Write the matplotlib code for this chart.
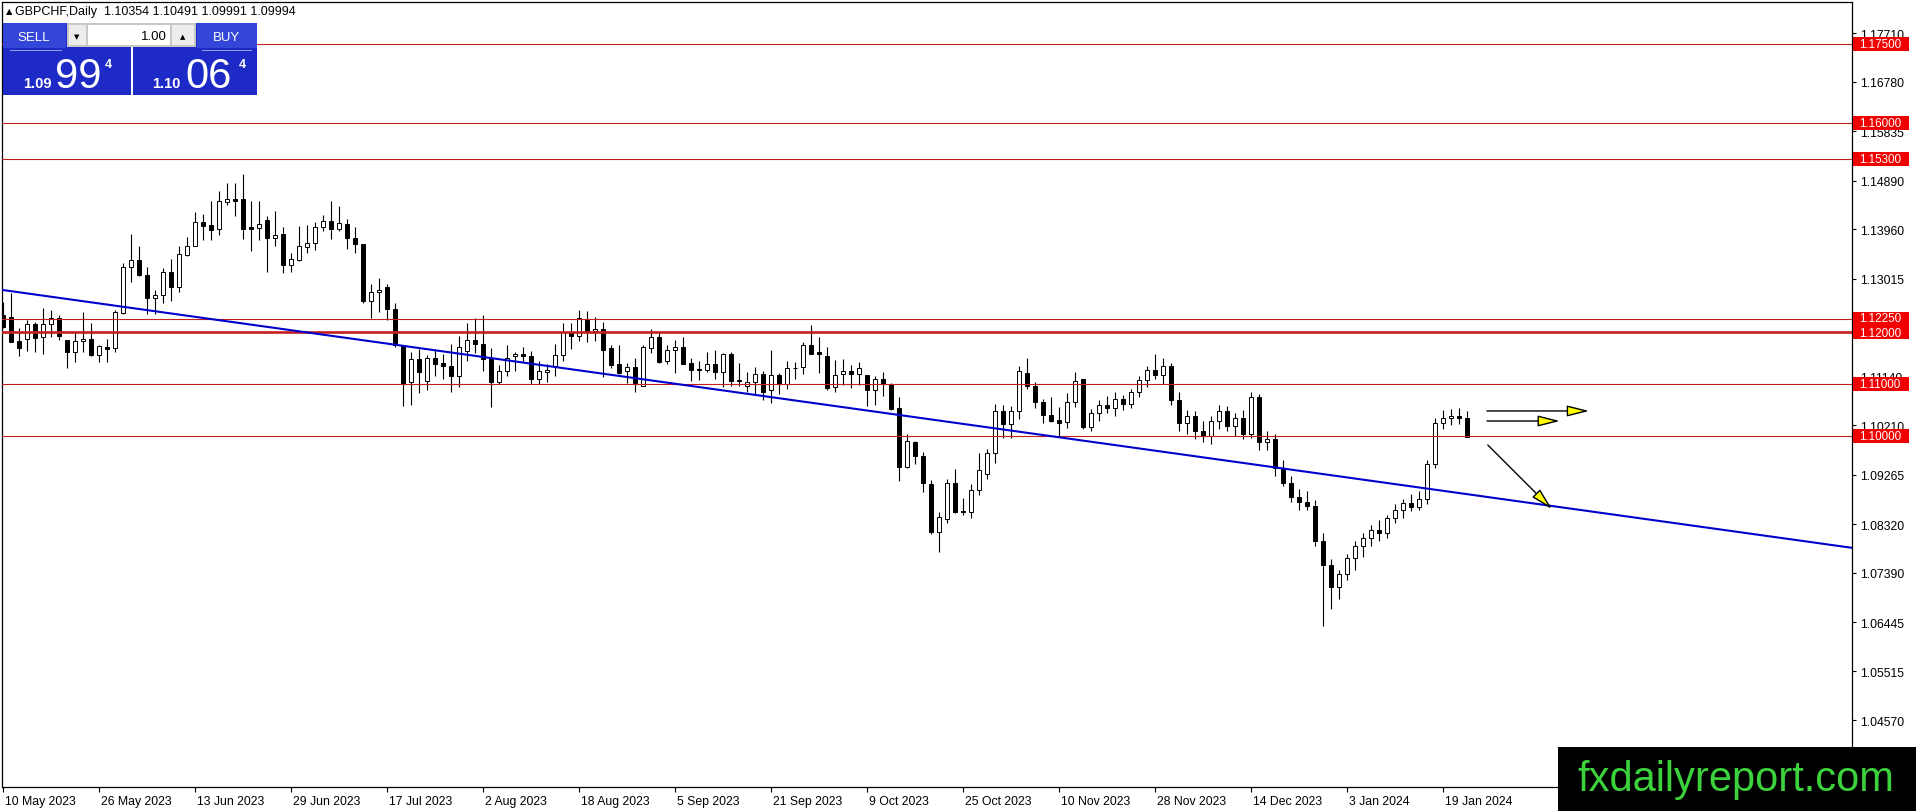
import matplotlib
matplotlib.use("Agg")
import matplotlib.pyplot as plt
from matplotlib.patches import Rectangle, FancyArrowPatch
from matplotlib.transforms import ScaledTranslation
import numpy as np

plt.rcParams['font.family'] = ['Liberation Sans', 'DejaVu Sans']

# ---------------- data ----------------
symbol_header = "GBPCHF,Daily  1.10354 1.10491 1.09991 1.09994"

opens = [
    1.1232, 1.1228, 1.1183, 1.1186, 1.1215, 1.1190, 1.1215, 1.1226, 1.1184, 1.1161,
    1.1182, 1.1186, 1.1155, 1.1171, 1.1169, 1.1236, 1.1324, 1.1338, 1.1308, 1.1264,
    1.1271, 1.1314, 1.1285, 1.1347, 1.1365, 1.1410, 1.1404, 1.1396, 1.1449, 1.1454,
    1.1454, 1.1401, 1.1399, 1.1414, 1.1379, 1.1387, 1.1327, 1.1338, 1.1363, 1.1369,
    1.1400, 1.1412, 1.1397, 1.1406, 1.1380, 1.1368, 1.1260, 1.1276, 1.1285, 1.1244,
    1.1175, 1.1104, 1.1148, 1.1107, 1.1150, 1.1140, 1.1134, 1.1116, 1.1163, 1.1185,
    1.1177, 1.1150, 1.1105, 1.1126, 1.1153, 1.1157, 1.1153, 1.1109, 1.1124, 1.1135,
    1.1155, 1.1200, 1.1192, 1.1223, 1.1202, 1.1206, 1.1169, 1.1139, 1.1125, 1.1132,
    1.1097, 1.1169, 1.1190, 1.1144, 1.1165, 1.1171, 1.1141, 1.1129, 1.1128, 1.1139,
    1.1124, 1.1158, 1.1108, 1.1096, 1.1104, 1.1119, 1.1088, 1.1118, 1.1100, 1.1130,
    1.1132, 1.1175, 1.1162, 1.1154, 1.1094, 1.1119, 1.1126, 1.1119, 1.1118, 1.1088,
    1.1110, 1.1100, 1.1055, 1.0942, 1.0989, 1.0962, 1.0909, 1.0818, 1.0842, 1.0912,
    1.0858, 1.0856, 1.0898, 1.0928, 1.0968, 1.1048, 1.1023, 1.1048, 1.1121, 1.1096,
    1.1065, 1.1042, 1.1032, 1.1027, 1.1065, 1.1109, 1.1019, 1.1044, 1.1060, 1.1055,
    1.1072, 1.1062, 1.1085, 1.1108, 1.1128, 1.1118, 1.1135, 1.1070, 1.1025, 1.1040,
    1.1010, 1.1000, 1.1030, 1.1048, 1.1020, 1.1035, 1.1005, 1.1075, 1.0990, 1.0995,
    1.0940, 1.0912, 1.0885, 1.0875, 1.0868, 1.0800, 1.0755, 1.0712, 1.0738, 1.0768,
    1.0790, 1.0805, 1.0822, 1.0815, 1.0845, 1.0860, 1.0872, 1.0866, 1.0880, 1.0948,
    1.1025, 1.1035, 1.1040, 1.10354,
]
highs = [
    1.1258, 1.1274, 1.1207, 1.1222, 1.1218, 1.1245, 1.1242, 1.1232, 1.1185, 1.1198,
    1.1238, 1.1217, 1.1174, 1.1186, 1.1241, 1.1331, 1.1387, 1.1365, 1.1324, 1.1280,
    1.1322, 1.1339, 1.1365, 1.1381, 1.1429, 1.1425, 1.1451, 1.1469, 1.1485, 1.1485,
    1.1502, 1.1451, 1.1451, 1.1422, 1.1431, 1.1400, 1.1350, 1.1403, 1.1404, 1.1410,
    1.1424, 1.1451, 1.1440, 1.1416, 1.1400, 1.1368, 1.1292, 1.1303, 1.1292, 1.1255,
    1.1175, 1.1161, 1.1167, 1.1156, 1.1167, 1.1158, 1.1177, 1.1193, 1.1217, 1.1226,
    1.1232, 1.1169, 1.1136, 1.1175, 1.1161, 1.1172, 1.1164, 1.1145, 1.1139, 1.1177,
    1.1217, 1.1217, 1.1241, 1.1239, 1.1228, 1.1218, 1.1174, 1.1174, 1.1141, 1.1151,
    1.1174, 1.1206, 1.1198, 1.1174, 1.1185, 1.1190, 1.1150, 1.1145, 1.1161, 1.1165,
    1.1160, 1.1162, 1.1141, 1.1123, 1.1132, 1.1125, 1.1165, 1.1121, 1.1145, 1.1142,
    1.1180, 1.1214, 1.1191, 1.1172, 1.1146, 1.1148, 1.1137, 1.1143, 1.1118, 1.1116,
    1.1124, 1.1102, 1.1076, 1.1004, 1.0992, 1.0971, 1.0916, 1.0856, 1.0919, 1.0938,
    1.0882, 1.0909, 1.0968, 1.0976, 1.1062, 1.1061, 1.1059, 1.1134, 1.1151, 1.1105,
    1.1072, 1.1075, 1.1056, 1.1083, 1.1123, 1.1110, 1.1052, 1.1070, 1.1078, 1.1085,
    1.1080, 1.1090, 1.1115, 1.1135, 1.1158, 1.1150, 1.1140, 1.1085, 1.1050, 1.1048,
    1.1030, 1.1040, 1.1060, 1.1058, 1.1045, 1.1050, 1.1085, 1.1082, 1.1010, 1.1005,
    1.0955, 1.0925, 1.0900, 1.0895, 1.0878, 1.0815, 1.0765, 1.0745, 1.0775, 1.0800,
    1.0815, 1.0830, 1.0840, 1.0850, 1.0870, 1.0880, 1.0890, 1.0895, 1.0955, 1.1035,
    1.1050, 1.1052, 1.1055, 1.10491,
]
lows = [
    1.1207, 1.1180, 1.1153, 1.1164, 1.1161, 1.1158, 1.1190, 1.1185, 1.1130, 1.1143,
    1.1162, 1.1153, 1.1142, 1.1143, 1.1161, 1.1234, 1.1295, 1.1306, 1.1234, 1.1234,
    1.1255, 1.1260, 1.1277, 1.1346, 1.1364, 1.1376, 1.1375, 1.1385, 1.1443, 1.1421,
    1.1378, 1.1355, 1.1376, 1.1315, 1.1365, 1.1312, 1.1314, 1.1335, 1.1351, 1.1357,
    1.1392, 1.1378, 1.1392, 1.1359, 1.1350, 1.1255, 1.1226, 1.1238, 1.1223, 1.1172,
    1.1058, 1.1060, 1.1083, 1.1088, 1.1116, 1.1110, 1.1086, 1.1094, 1.1145, 1.1160,
    1.1126, 1.1056, 1.1100, 1.1116, 1.1126, 1.1142, 1.1100, 1.1100, 1.1105, 1.1116,
    1.1145, 1.1167, 1.1183, 1.1181, 1.1183, 1.1113, 1.1131, 1.1120, 1.1102, 1.1085,
    1.1096, 1.1159, 1.1140, 1.1139, 1.1121, 1.1138, 1.1107, 1.1108, 1.1124, 1.1109,
    1.1094, 1.1096, 1.1097, 1.1085, 1.1081, 1.1069, 1.1064, 1.1081, 1.1091, 1.1109,
    1.1119, 1.1158, 1.1121, 1.1089, 1.1085, 1.1099, 1.1093, 1.1099, 1.1059, 1.1060,
    1.1077, 1.1051, 1.0914, 1.0939, 1.0947, 1.0893, 1.0814, 1.0780, 1.0834, 1.0854,
    1.0850, 1.0844, 1.0888, 1.0919, 1.0949, 1.0997, 1.0997, 1.1033, 1.1091, 1.1055,
    1.1025, 1.1027, 1.1000, 1.1016, 1.1056, 1.1014, 1.1010, 1.1030, 1.1045, 1.1040,
    1.1050, 1.1055, 1.1075, 1.1095, 1.1110, 1.1100, 1.1060, 1.1010, 1.1005, 1.0995,
    1.0990, 1.0985, 1.1015, 1.1010, 1.1000, 1.0995, 1.0998, 1.0975, 1.0975, 1.0925,
    1.0905, 1.0875, 1.0860, 1.0860, 1.0790, 1.0637, 1.0670, 1.0690, 1.0725, 1.0745,
    1.0770, 1.0790, 1.0800, 1.0805, 1.0835, 1.0845, 1.0858, 1.0860, 1.0870, 1.0940,
    1.1015, 1.1022, 1.1024, 1.09991,
]
closes = [
    1.1209, 1.1181, 1.1170, 1.1215, 1.1188, 1.1215, 1.1226, 1.1193, 1.1161, 1.1182,
    1.1186, 1.1155, 1.1173, 1.1168, 1.1238, 1.1324, 1.1338, 1.1308, 1.1264, 1.1271,
    1.1314, 1.1285, 1.1348, 1.1364, 1.1410, 1.1403, 1.1394, 1.1450, 1.1454, 1.1451,
    1.1397, 1.1397, 1.1406, 1.1379, 1.1386, 1.1327, 1.1339, 1.1364, 1.1369, 1.1400,
    1.1412, 1.1397, 1.1408, 1.1380, 1.1368, 1.1260, 1.1276, 1.1281, 1.1243, 1.1175,
    1.1100, 1.1148, 1.1124, 1.1150, 1.1139, 1.1134, 1.1116, 1.1172, 1.1185, 1.1176,
    1.1148, 1.1104, 1.1125, 1.1151, 1.1157, 1.1153, 1.1109, 1.1125, 1.1127, 1.1156,
    1.1200, 1.1192, 1.1226, 1.1199, 1.1205, 1.1166, 1.1137, 1.1121, 1.1132, 1.1102,
    1.1171, 1.1190, 1.1143, 1.1165, 1.1171, 1.1139, 1.1128, 1.1127, 1.1138, 1.1124,
    1.1158, 1.1107, 1.1106, 1.1104, 1.1119, 1.1086, 1.1118, 1.1100, 1.1130, 1.1131,
    1.1175, 1.1158, 1.1158, 1.1092, 1.1118, 1.1125, 1.1119, 1.1130, 1.1088, 1.1110,
    1.1100, 1.1053, 1.0942, 1.0991, 1.0962, 1.0911, 1.0818, 1.0847, 1.0912, 1.0856,
    1.0856, 1.0898, 1.0936, 1.0968, 1.1048, 1.1023, 1.1048, 1.1125, 1.1096, 1.1065,
    1.1042, 1.1030, 1.1026, 1.1065, 1.1107, 1.1019, 1.1044, 1.1060, 1.1055, 1.1072,
    1.1062, 1.1085, 1.1108, 1.1128, 1.1118, 1.1135, 1.1070, 1.1025, 1.1040, 1.1010,
    1.1000, 1.1030, 1.1048, 1.1020, 1.1035, 1.1005, 1.1075, 1.0990, 1.0995, 1.0940,
    1.0912, 1.0885, 1.0875, 1.0868, 1.0800, 1.0755, 1.0712, 1.0738, 1.0768, 1.0790,
    1.0805, 1.0822, 1.0815, 1.0845, 1.0860, 1.0872, 1.0866, 1.0880, 1.0948, 1.1025,
    1.1035, 1.1040, 1.1036, 1.09994,
]

level_prices = [1.17500, 1.16000, 1.15300, 1.12250, 1.12000, 1.11000, 1.10000]
level_labels = ["1.17500", "1.16000", "1.15300", "1.12250", "1.12000", "1.11000", "1.10000"]

price_ticks = [1.17710, 1.16780, 1.15835, 1.14890, 1.13960, 1.13015, 1.12070,
               1.11140, 1.10210, 1.09265, 1.08320, 1.07390, 1.06445, 1.05515, 1.04570]
# 1.12070 is completely covered by the 1.12250 / 1.12000 level labels in the original
hidden_tick_labels = [1.12070]

date_tick_bars = [0, 12, 24, 36, 48, 60, 72, 84, 96, 108, 120, 132, 144, 156, 168, 180]
date_tick_labels = ["10 May 2023", "26 May 2023", "13 Jun 2023", "29 Jun 2023",
                    "17 Jul 2023", "2 Aug 2023", "18 Aug 2023", "5 Sep 2023",
                    "21 Sep 2023", "9 Oct 2023", "25 Oct 2023", "10 Nov 2023",
                    "28 Nov 2023", "14 Dec 2023", "3 Jan 2024", "19 Jan 2024"]

trend_anchor_a = (0, 1.1280)
trend_anchor_b = (181, 1.0894)

arrow_tails = [(185.5, 1.10488), (185.5, 1.10296), (185.6, 1.09837)]
arrow_tips = [(198.25, 1.10488), (194.6, 1.10296), (193.6, 1.08614)]

sell_price = ("1.09", "99", "4")
buy_price = ("1.10", "06", "4")
lot_size = "1.00"
watermark = "fxdailyreport.com"

# ---------------- figure ----------------
W, H = 1916, 812
fig = plt.figure(figsize=(W / 100, H / 100), dpi=100)
fig.patch.set_facecolor("white")


def fx(px):
    return px / W


def fy(py):
    return 1 - py / H


ax_left, ax_right, ax_top, ax_bot = 2, 1852, 2.5, 788
ax = fig.add_axes([fx(ax_left), fy(ax_bot), (ax_right - ax_left) / W, (ax_bot - ax_top) / H])
ax.set_facecolor("white")
ax.set_xlim(-0.125, 231.125)
ax.set_ylim(1.03298, 1.18317)

n = len(closes)
x = np.arange(n)
o = np.array(opens)
h = np.array(highs)
l = np.array(lows)
c = np.array(closes)

ax.vlines(x, l, h, color="black", lw=0.8, zorder=2)
bottoms = np.minimum(o, c)
heights = np.abs(c - o)
colors = ["white" if cc >= oo else "black" for oo, cc in zip(o, c)]
ax.bar(x, heights, bottom=bottoms, width=0.58, color=colors, edgecolor="black",
       linewidth=0.7, zorder=3)

# horizontal levels
for p in level_prices:
    ax.axhline(p, color="#C41E1E", lw=1.9 if abs(p - 1.12) < 1e-9 else 0.8, zorder=4)

# trend line
ax.axline(trend_anchor_a, trend_anchor_b, color="#0000CC", lw=1.5, zorder=5)

# arrows
for tail, tip in zip(arrow_tails, arrow_tips):
    arr = FancyArrowPatch(tail, tip, arrowstyle="-|>,head_length=1.35,head_width=0.34",
                          mutation_scale=10, facecolor="#FFFF00", edgecolor="black",
                          lw=1.0, shrinkA=0, shrinkB=0, zorder=6)
    ax.add_patch(arr)

# axes styling
for s in ax.spines.values():
    s.set_color("black")
    s.set_linewidth(0.9)
ax.yaxis.tick_right()
ax.set_yticks(price_ticks)
ax.set_yticklabels(["" if t in hidden_tick_labels else f"{t:.5f}" for t in price_ticks])
ax.tick_params(axis="y", direction="out", length=3, width=0.8, pad=2.5,
               labelsize=8.8, colors="black")
ax.set_xticks(date_tick_bars)
ax.set_xticklabels(date_tick_labels, ha="left")
ax.tick_params(axis="x", direction="out", length=3.5, width=0.8, pad=2,
               labelsize=8.8, colors="black")
offset = ScaledTranslation(2 / 100, 0, fig.dpi_scale_trans)
for lbl in ax.get_xticklabels():
    lbl.set_transform(lbl.get_transform() + offset)

# red price labels on the axis
ytrans = ax.get_yaxis_transform()
span = ax_right - ax_left
half_h = 7.0 / 5230
# small vertical nudges (px) so the two adjacent labels do not collide
label_nudge_px = {1.12250: 1.2, 1.12000: -1.2}
for p, lab in zip(level_prices, level_labels):
    ax.add_patch(Rectangle(((1853 - ax_left) / span, p - half_h), 56 / span, 2 * half_h,
                           transform=ytrans, facecolor="#F00000", edgecolor="none",
                           clip_on=False, zorder=10))
    nudge = label_nudge_px.get(p, 0.0)
    t = ax.text((1859 - ax_left) / span, p, lab, color="white",
                fontsize=8.4, va="center", ha="left", clip_on=False, zorder=11,
                transform=ytrans + ScaledTranslation(0, nudge / 100, fig.dpi_scale_trans))

# header
fig.text(fx(6), fy(12), "\u25B2", fontsize=6, family="DejaVu Sans", va="center", ha="left")
fig.text(fx(15), fy(12), symbol_header, fontsize=9, va="center", ha="left")


# one-click trading panel
def rect(x0, y0, x1, y1, **kw):
    fig.add_artist(Rectangle((fx(x0), fy(y1)), (x1 - x0) / W, (y1 - y0) / H,
                             transform=fig.transFigure, **kw))


def ftext(xp, yp, s, **kw):
    fig.text(fx(xp), fy(yp), s, **kw)


rect(3, 24, 131, 96, facecolor="#1E2AC6", edgecolor="none", zorder=20)
rect(133, 24, 257, 96, facecolor="#1E2AC6", edgecolor="none", zorder=20)
rect(3, 24, 66, 49, facecolor="#3446D8", edgecolor="none", zorder=21)
rect(197, 24, 257, 49, facecolor="#3446D8", edgecolor="none", zorder=21)
rect(10, 51, 62, 52, facecolor="#8E9DEE", edgecolor="none", zorder=22)
rect(202, 51, 252, 52, facecolor="#8E9DEE", edgecolor="none", zorder=22)
rect(67, 24, 196, 48, facecolor="#C8C8C8", edgecolor="none", zorder=21)
rect(69, 26, 86, 46, facecolor="#EDEDED", edgecolor="none", zorder=22)
rect(88, 26, 170, 46, facecolor="white", edgecolor="none", zorder=22)
rect(172, 26, 194, 46, facecolor="#EDEDED", edgecolor="none", zorder=22)

ftext(34, 38, "SELL", color="white", fontsize=9.5, ha="center", va="center", zorder=30)
ftext(226, 38, "BUY", color="white", fontsize=9.5, ha="center", va="center", zorder=30)
ftext(167, 37, lot_size, color="black", fontsize=9.5, ha="right", va="center", zorder=30)
ftext(77, 37, "\u25BC", color="black", fontsize=5, family="DejaVu Sans", ha="center", va="center", zorder=30)
ftext(183, 37, "\u25B2", color="black", fontsize=5, family="DejaVu Sans", ha="center", va="center", zorder=30)

ftext(23, 88, sell_price[0], color="white", fontsize=10.5, fontweight="bold", ha="left", va="baseline", zorder=30)
ftext(55, 88, sell_price[1], color="white", fontsize=30, ha="left", va="baseline", zorder=30)
ftext(105, 59, sell_price[2], color="white", fontsize=9, fontweight="bold", ha="left", va="top", zorder=30)
ftext(152, 88, buy_price[0], color="white", fontsize=10.5, fontweight="bold", ha="left", va="baseline", zorder=30)
ftext(185, 88, buy_price[1], color="white", fontsize=30, ha="left", va="baseline", zorder=30)
ftext(239, 59, buy_price[2], color="white", fontsize=9, fontweight="bold", ha="left", va="top", zorder=30)

# watermark
rect(1558, 748, W + 1, H + 1, facecolor="black", edgecolor="none", zorder=40)
ftext(1577, 780, watermark, color="#3CD23C", fontsize=30, ha="left", va="center", zorder=41)

fig.savefig("out.png", dpi=100, facecolor="white")
